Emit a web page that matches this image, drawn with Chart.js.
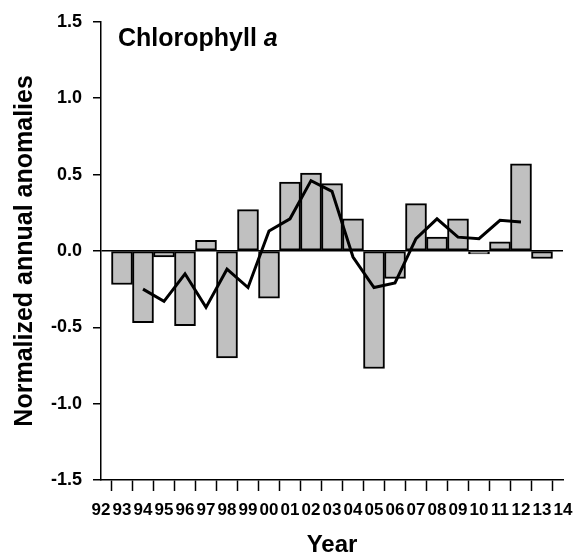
<!DOCTYPE html>
<html>
<head>
<meta charset="utf-8">
<script src="https://cdn.jsdelivr.net/npm/chart.js@4/dist/chart.umd.min.js"></script>
<style>
  html, body { margin: 0; padding: 0; background: #fff; }
  #wrap { width: 584px; height: 560px; }
</style>
</head>
<body>
<div id="wrap"><canvas id="chart" width="584" height="560"></canvas></div>
<script>
// years on the axis (two-digit labels)
const years = ['92','93','94','95','96','97','98','99','00','01','02','03','04','05','06','07','08','09','10','11','12','13','14'];
// annual anomalies (bars), 1993-2013
const anomalies = [null, -0.22, -0.47, -0.04, -0.49, 0.07, -0.70, 0.27, -0.31, 0.45, 0.51, 0.44, 0.21, -0.77, -0.18, 0.31, 0.09, 0.21, -0.02, 0.06, 0.57, -0.05, null];
// smoothed anomalies (line), 1994-2012
const smoothed = [null, null, -0.25, -0.33, -0.15, -0.37, -0.12, -0.24, 0.13, 0.21, 0.46, 0.39, -0.04, -0.24, -0.21, 0.08, 0.21, 0.09, 0.08, 0.20, 0.19, null, null];
const yTicks = [-1.5, -1.0, -0.5, 0.0, 0.5, 1.0, 1.5];

const FONT = 'Liberation Sans, Arial, Helvetica, sans-serif';

// panel label with italic "a"
const panelLabel = {
  id: 'panelLabel',
  afterDraw(chart) {
    const ctx = chart.ctx;
    ctx.save();
    ctx.fillStyle = '#000';
    ctx.textBaseline = 'alphabetic';
    ctx.font = 'bold 25px ' + FONT;
    const txt = 'Chlorophyll ';
    ctx.fillText(txt, 118, 46);
    const w = ctx.measureText(txt).width;
    ctx.font = 'italic bold 25px ' + FONT;
    ctx.fillText('a', 118 + w, 46);
    ctx.restore();
  }
};

new Chart(document.getElementById('chart'), {
  data: {
    labels: years,
    datasets: [
      {
        type: 'line',
        data: smoothed,
        borderColor: '#000',
        borderWidth: 3,
        pointRadius: 0,
        tension: 0,
        spanGaps: false,
        order: 0
      },
      {
        type: 'bar',
        data: anomalies,
        backgroundColor: '#c0c0c0',
        borderColor: '#000',
        borderWidth: 2,
        borderSkipped: false,
        categoryPercentage: 1,
        barPercentage: 1,
        order: 1
      }
    ]
  },
  options: {
    responsive: false,
    animation: false,
    layout: { padding: { left: 0, top: 19, right: 21, bottom: 0 } },
    plugins: { legend: { display: false }, tooltip: { enabled: false } },
    scales: {
      x: {
        type: 'category',
        offset: false,
        afterFit: s => { s.height = 80; },
        border: { color: '#000', width: 1.5 },
        grid: { drawOnChartArea: false, drawTicks: true, tickLength: 11, tickColor: '#000', tickWidth: 1.5 },
        ticks: {
          color: '#000', autoSkip: false, maxRotation: 0, padding: 9,
          font: { family: FONT, size: 17, weight: 'bold' }
        },
        title: {
          display: true, text: 'Year', color: '#000',
          padding: { top: 0, bottom: 0 },
          font: { family: FONT, size: 24, weight: 'bold' }
        }
      },
      y: {
        min: -1.5, max: 1.5,
        afterFit: s => { s.width = 101; },
        afterBuildTicks: s => { s.ticks = yTicks.map(v => ({ value: v })); },
        border: { color: '#000', width: 1.5 },
        grid: {
          drawTicks: true, tickLength: 8, tickColor: '#000', tickWidth: 1.5,
          color: c => (c.tick && c.tick.value === 0 ? '#000' : 'rgba(0,0,0,0)'),
          lineWidth: 1.5
        },
        ticks: {
          color: '#000', padding: 11,
          callback: v => Number(v).toFixed(1),
          font: { family: FONT, size: 18, weight: 'bold' }
        },
        title: {
          display: true, text: 'Normalized annual anomalies', color: '#000',
          padding: { top: 10, bottom: 0 },
          font: { family: FONT, size: 25, weight: 'bold' }
        }
      }
    }
  },
  plugins: [panelLabel]
});
</script>
</body>
</html>
